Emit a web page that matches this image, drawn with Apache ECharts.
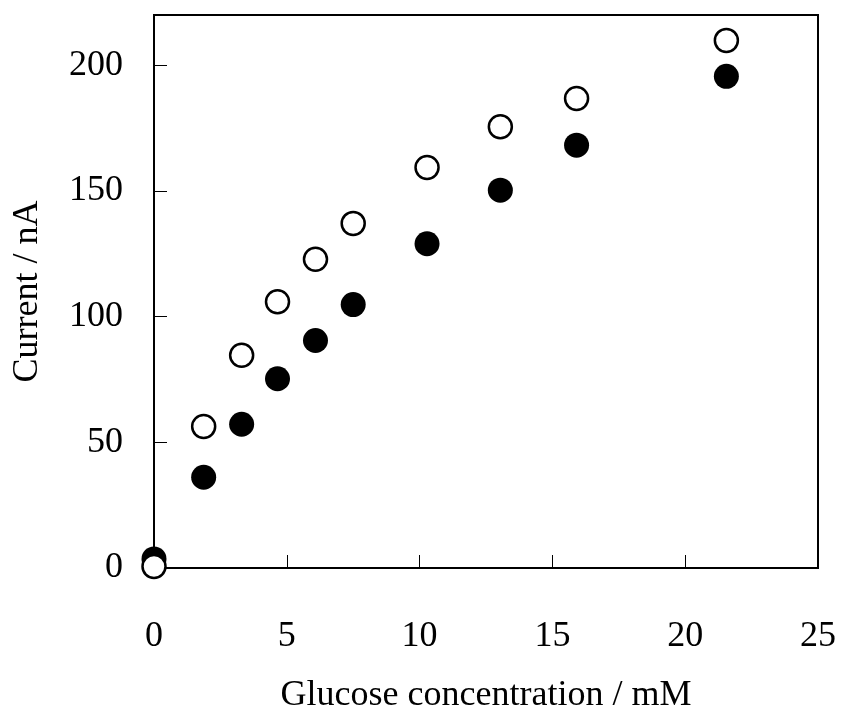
<!DOCTYPE html>
<html>
<head>
<meta charset="utf-8">
<script src="https://cdn.jsdelivr.net/npm/echarts@6/dist/echarts.min.js"></script>
<style>
html,body{margin:0;padding:0;background:#fff;}
#chart{width:841px;height:719px;}
</style>
</head>
<body>
<div id="chart"></div>
<script>
// Glucose concentration (mM)
var concentration = [0, 1.87, 3.30, 4.65, 6.08, 7.50, 10.28, 13.04, 15.91, 21.55];
// Filled circles (Current / nA)
var filledCurrent = [3.6, 36.1, 57.2, 75.3, 90.5, 104.8, 129.0, 150.3, 168.2, 195.6];
// Open circles (Current / nA)
var openCurrent = [0.6, 56.3, 84.6, 105.9, 122.8, 137.1, 159.3, 175.5, 186.8, 209.9];

var xTicks = [0, 5, 10, 15, 20, 25];
var yTicks = [0, 50, 100, 150, 200];

function pairs(xs, ys) {
  return xs.map(function (x, i) { return [x, ys[i]]; });
}

var font = '"Liberation Serif", "Times New Roman", serif';
var chart = echarts.init(document.getElementById('chart'), null, {renderer: 'canvas'});
chart.setOption({
  animation: false,
  backgroundColor: '#fff',
  grid: {
    left: 154, right: 23, top: 15, bottom: 148,
    show: true, borderColor: '#000', borderWidth: 2, backgroundColor: 'transparent'
  },
  xAxis: {
    type: 'value', min: 0, max: 25, interval: 5,
    name: 'Glucose concentration / mM',
    nameLocation: 'middle', nameGap: 110,
    nameTextStyle: {fontFamily: font, fontSize: 36, color: '#000'},
    axisLine: {show: true, onZero: false, lineStyle: {color: '#000', width: 2}},
    axisTick: {show: true, inside: true, length: 13, lineStyle: {color: '#000', width: 1}},
    axisLabel: {
      fontFamily: font, fontSize: 36, color: '#000', margin: 51,
      formatter: function (v) { return xTicks.indexOf(v) >= 0 ? String(v) : ''; }
    },
    splitLine: {show: false}
  },
  yAxis: {
    type: 'value', min: 0, max: 220, interval: 50,
    name: 'Current / nA',
    nameLocation: 'middle', nameGap: 108,
    nameTextStyle: {fontFamily: font, fontSize: 36, color: '#000'},
    axisLine: {show: true, onZero: false, lineStyle: {color: '#000', width: 2}},
    axisTick: {show: true, inside: true, length: 13, lineStyle: {color: '#000', width: 1}},
    axisLabel: {
      fontFamily: font, fontSize: 36, color: '#000', margin: 31,
      showMaxLabel: false,
      formatter: function (v) { return yTicks.indexOf(v) >= 0 ? String(v) : ''; }
    },
    splitLine: {show: false}
  },
  series: [
    {
      type: 'scatter', name: 'filled', clip: false,
      data: pairs(concentration, filledCurrent),
      symbol: 'circle', symbolSize: 25,
      itemStyle: {color: '#000', opacity: 1}
    },
    {
      type: 'scatter', name: 'open', clip: false,
      data: pairs(concentration, openCurrent),
      symbol: 'circle', symbolSize: 23,
      itemStyle: {color: '#fff', borderColor: '#000', borderWidth: 2.5, opacity: 1}
    }
  ]
});
</script>
</body>
</html>
